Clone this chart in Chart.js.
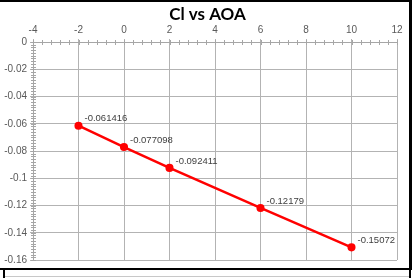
<!DOCTYPE html>
<html>
<head>
<meta charset="utf-8">
<script src="https://cdn.jsdelivr.net/npm/chart.js@4"></script>
<style>
  html, body { margin: 0; padding: 0; background: #fff; }
  #wrap { position: relative; width: 415px; height: 278px; overflow: hidden; }
  canvas { position: absolute; left: 0; top: 0; }
  .b { position: absolute; background: #000; }
</style>
</head>
<body>
<div id="wrap">
  <canvas id="c" width="415" height="278"></canvas>
  <div class="b" style="left:0;top:0;width:412px;height:2px;"></div>
  <div class="b" style="left:409px;top:0;width:3px;height:270px;"></div>
  <div class="b" style="left:0;top:268px;width:412px;height:2px;"></div>
  <div class="b" style="left:3px;top:270px;width:2px;height:8px;"></div>
  <div class="b" style="left:409px;top:270px;width:2px;height:8px;"></div>
  <div style="position:absolute;left:5px;top:276px;width:404px;height:1px;background:#c8c8c8;"></div>
</div>
<script>
const chartTitle = 'Cl vs AOA';
const aoa = [-2, 0, 2, 6, 10];
const cl = [-0.061416, -0.077098, -0.092411, -0.12179, -0.15072];
const valueLabels = ['-0.061416', '-0.077098', '-0.092411', '-0.12179', '-0.15072'];
const xTicks = [-4, -2, 0, 2, 4, 6, 8, 10, 12];
const yTicks = [0, -0.02, -0.04, -0.06, -0.08, -0.1, -0.12, -0.14, -0.16];

const points = aoa.map((x, i) => ({ x: x, y: cl[i] }));

const minorTicks = {
  id: 'minorTicks',
  afterDatasetsDraw(chart) {
    const ctx = chart.ctx;
    const xs = chart.scales.x, ys = chart.scales.y;
    const top = chart.chartArea.top, left = chart.chartArea.left;
    ctx.save();
    ctx.strokeStyle = '#a6a6a6';
    ctx.lineWidth = 1;
    ctx.beginPath();
    for (let i = 0; i <= 40; i++) {
      const v = -4 + i * 0.4;
      const px = Math.round(xs.getPixelForValue(v)) + 0.5;
      ctx.moveTo(px, top - 2);
      ctx.lineTo(px, top + 3);
    }
    for (let i = 0; i <= 80; i++) {
      const v = -i * 0.002;
      const py = Math.round(ys.getPixelForValue(v)) + 0.5;
      ctx.moveTo(left - 2, py);
      ctx.lineTo(left + 3, py);
    }
    ctx.stroke();
    ctx.restore();
  }
};

const dataLabels = {
  id: 'dataLabels',
  afterDatasetsDraw(chart) {
    const ctx = chart.ctx;
    const meta = chart.getDatasetMeta(0);
    ctx.save();
    ctx.font = '9.5px "Liberation Sans", Arial, sans-serif';
    ctx.fillStyle = '#404040';
    ctx.textAlign = 'left';
    ctx.textBaseline = 'middle';
    meta.data.forEach((pt, i) => {
      ctx.fillText(valueLabels[i], pt.x + 6, pt.y - 7);
    });
    ctx.restore();
  }
};

new Chart(document.getElementById('c'), {
  type: 'scatter',
  data: {
    datasets: [{
      data: points,
      showLine: true,
      borderColor: '#ff0000',
      backgroundColor: '#ff0000',
      borderWidth: 2.5,
      pointRadius: 2.8,
      pointHoverRadius: 2.8
    }]
  },
  options: {
    responsive: false,
    animation: false,
    devicePixelRatio: 1,
    layout: { padding: { left: 0, right: 0, top: 0, bottom: 18 } },
    plugins: {
      legend: { display: false },
      tooltip: { enabled: false },
      title: {
        display: true,
        text: chartTitle,
        color: '#000',
        font: { family: '"Liberation Sans Narrow", Lato, sans-serif', size: 17, weight: 'bold', lineHeight: 1.2 },
        padding: { top: 4, bottom: 0 }
      }
    },
    scales: {
      x: {
        type: 'linear',
        position: 'top',
        min: -4, max: 12,
        afterBuildTicks(s) { s.ticks = xTicks.map(v => ({ value: v })); },
        afterFit(s) { s.height = 42 - 24.4; },
        ticks: {
          color: '#595959',
          font: { family: '"Liberation Sans", Arial, sans-serif', size: 10 },
          padding: 3,
          maxRotation: 0,
          callback: v => String(v)
        },
        grid: { color: '#b3b3b3', lineWidth: 1, drawTicks: true, tickLength: 3 },
        border: { color: '#a6a6a6' }
      },
      y: {
        type: 'linear',
        position: 'left',
        min: -0.16, max: 0,
        afterBuildTicks(s) { s.ticks = yTicks.map(v => ({ value: v })); },
        afterFit(s) { s.width = 33; },
        ticks: {
          color: '#595959',
          font: { family: '"Liberation Sans", Arial, sans-serif', size: 10 },
          padding: 3,
          callback: v => String(Math.round(v * 100) / 100)
        },
        grid: { color: '#b3b3b3', lineWidth: 1, drawTicks: true, tickLength: 3 },
        border: { color: '#a6a6a6' }
      },
      yRight: {
        type: 'linear',
        position: 'right',
        min: -0.16, max: 0,
        afterFit(s) { s.width = 18; },
        ticks: { display: false },
        grid: { display: false, drawTicks: false },
        border: { display: false }
      }
    }
  },
  plugins: [minorTicks, dataLabels]
});
</script>
</body>
</html>
